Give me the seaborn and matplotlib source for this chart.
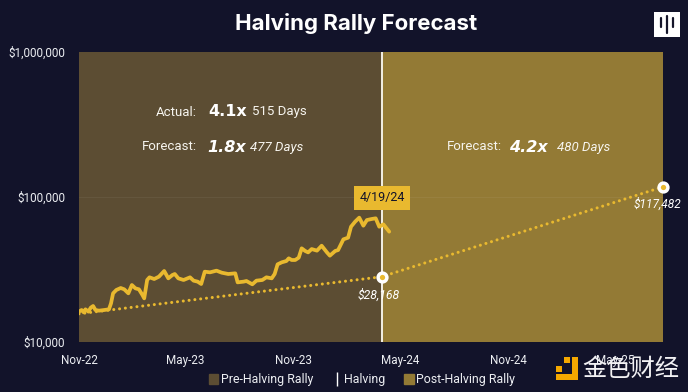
import matplotlib
matplotlib.use("Agg")
import matplotlib.pyplot as plt
from matplotlib.lines import Line2D
from matplotlib.patches import Patch, Rectangle
import pandas as pd
import seaborn as sns

START = pd.Timestamp("2022-11-21")

# days since START and BTC price
price_days = [0, 4.5, 8, 11, 16, 20, 24, 28, 34, 43, 51, 54.5, 58, 63.5, 71, 77, 84, 90, 96, 102, 108, 111,
              116, 120, 128, 136, 145, 152, 159,
              163, 169, 178, 189, 195, 202, 208, 214, 223, 234, 243, 254, 266, 270, 280, 285, 295, 302, 312,
              319, 328, 333,
              338, 345, 353, 357, 362, 368, 374, 379, 385, 390, 396, 405, 413, 422, 427, 436, 441, 450, 458,
              463, 470, 477, 484, 490, 498, 505, 511, 518, 528]
price_values = [16190, 16620, 16020, 16800, 16190, 17250, 17710, 16620, 16450, 16620, 16800, 18480, 21660, 22840,
                23570, 23080, 21660, 24720, 23450, 23080, 21090, 20000,
                26770, 27930, 27190, 28220, 30880, 27480, 28970,
                29440, 27480, 26770, 27930, 26490, 26070, 25120, 30550, 30230, 31040, 30060, 29440, 29760, 25790,
                26070, 26340, 24990, 26490, 26770, 27930, 27480, 29440,
                34320, 35430, 36190, 37760, 36770, 36770, 38170, 44260, 42430, 41500, 43750, 42660, 46130, 41500,
                39400, 42430, 43050, 51050, 52420, 62400, 67600, 72030, 63400, 69350, 70500, 71280, 62400, 64800,
                57680]

forecast_days = [0, 515, 994]
forecast_values = [15650, 28168, 117482]

halving_day = 515
tick_dates = ["2022-11-21", "2023-05-21", "2023-11-21", "2024-05-21", "2024-11-21", "2025-05-21"]
tick_labels = ["Nov-22", "May-23", "Nov-23", "May-24", "Nov-24", "May-25"]
y_ticks = [10000, 100000, 1000000]
y_labels = ["$10,000", "$100,000", "$1,000,000"]

BG = "#12132a"
PRE = "#5c4d33"
POST = "#937a35"
GOLD = "#e9b92f"
W, H = 688, 392


def to_dates(days):
    return START + pd.to_timedelta(days, unit="D")


def px(x, y):
    # pixel position in the image -> figure fraction
    return x / W, 1 - y / H


sns.set_theme(style="white")
plt.rcParams["font.family"] = ["Roboto", "DejaVu Sans"]

fig = plt.figure(figsize=(6.88, 3.92), dpi=100, facecolor=BG)
ax = fig.add_axes([79 / W, 1 - 342 / H, (663 - 79) / W, (342 - 52) / H], facecolor=PRE)

halving = to_dates(halving_day)
end = to_dates(forecast_days[-1])
ax.axvspan(START, halving, color=PRE, lw=0, zorder=0)
ax.axvspan(halving, end, color=POST, lw=0, zorder=0)
ax.axhline(100000, color="#ffffff", alpha=0.05, lw=0.8, zorder=1)
ax.axvline(halving, color="#f4f1e6", lw=1.4, zorder=2)

forecast_df = pd.DataFrame({"date": to_dates(forecast_days), "price": forecast_values})
price_df = pd.DataFrame({"date": to_dates(price_days), "price": price_values})
sns.lineplot(forecast_df, x="date", y="price", ax=ax, color=GOLD, lw=2.2, zorder=3,
             linestyle=(0, (0.01, 1.9)), dash_capstyle="round", errorbar=None)
sns.lineplot(price_df, x="date", y="price", ax=ax, color=GOLD, lw=2.7, zorder=4, errorbar=None)
sns.scatterplot(forecast_df.iloc[1:], x="date", y="price", ax=ax, s=40, color=GOLD, edgecolor="white",
                linewidth=2.5, zorder=5, clip_on=False)

ax.set_yscale("log")
ax.set_ylim(10000, 1000000)
ax.set_xlim(START, end)
ax.set_xlabel("")
ax.set_ylabel("")
ax.set_yticks(y_ticks, y_labels)
ax.minorticks_off()
ax.set_xticks(pd.to_datetime(tick_dates), tick_labels)
ax.tick_params(axis="both", length=0, labelsize=8.4, labelcolor="#eceef2")
ax.tick_params(axis="x", pad=8.5)
ax.tick_params(axis="y", pad=10)
for s in ax.spines.values():
    s.set_visible(False)

fig.text(*px(356, 24), "Halving Rally Forecast", color="white", fontsize=16, fontweight="bold",
         family="Inter", ha="center", va="center")


def stat(x_label, x_mult, x_days, y, label, mult, days, italic):
    style = "italic" if italic else "normal"
    fig.text(*px(x_label, y), label, color="#f6f4ee", fontsize=9.5, ha="right", va="center")
    fig.text(*px(x_mult, y), mult, color="white", fontsize=11.5, fontweight="bold", family="DejaVu Sans",
             style=style, ha="left", va="center")
    fig.text(*px(x_days, y), days, color="#f6f4ee", fontsize=9.5, style=style, ha="left", va="center")


stat(197, 208, 252, 112, "Actual:", "4.1x", "515 Days", False)
stat(197, 207, 250, 147, "Forecast:", "1.8x", "477 Days", True)
stat(502, 509, 557, 147, "Forecast:", "4.2x", "480 Days", True)

fig.text(*px(382, 198), "4/19/24", color="#12132a", fontsize=9, ha="center", va="center", zorder=6,
         bbox=dict(boxstyle="square,pad=0.45", fc=GOLD, ec="none"))
fig.text(*px(379, 295), "$28,168", color="white", fontsize=8.8, style="italic", ha="center", va="center", zorder=6)
fig.text(*px(657, 204), "$117,482", color="white", fontsize=8.6, style="italic", ha="center", va="center", zorder=6)

handles = [Patch(color=PRE), Line2D([], [], color="white", marker="|", ls="none", ms=10, mew=1), Patch(color=POST)]
leg = fig.legend(handles, ["Pre-Halving Rally", "Halving", "Post-Halving Rally"], ncol=3, frameon=False,
                 loc="center", bbox_to_anchor=px(362, 380), fontsize=8.9, labelcolor="#eceef2",
                 handlelength=0.8, handleheight=0.8, handletextpad=0.2, columnspacing=1.5)

# logo, top right
fig.add_artist(Rectangle(px(654, 37), 26 / W, 25 / H, transform=fig.transFigure, color="white", lw=0))
for x0, y0, y1 in [(661, 18, 27), (667, 16, 33), (673, 18, 27)]:
    fig.add_artist(Line2D(*zip(px(x0, y0), px(x0, y1)), transform=fig.transFigure, color="#15152a", lw=1.6))

# watermark, bottom right
WM = "#f5a800"
for x0, y0, w, h in [(564, 357, 6, 6), (572, 357, 6, 23), (556, 374, 22, 6), (556, 366, 6, 6)]:
    fig.add_artist(Rectangle(px(x0, y0 + h), w / W, h / H, transform=fig.transFigure, color=WM, lw=0, zorder=7))
fig.text(*px(631, 369), "金色财经", color="#f2f2f4", fontsize=17.5, family=["Noto Sans CJK SC", "DejaVu Sans"],
         ha="center", va="center", zorder=7)

fig.savefig("out.png", dpi=100, facecolor=BG)
